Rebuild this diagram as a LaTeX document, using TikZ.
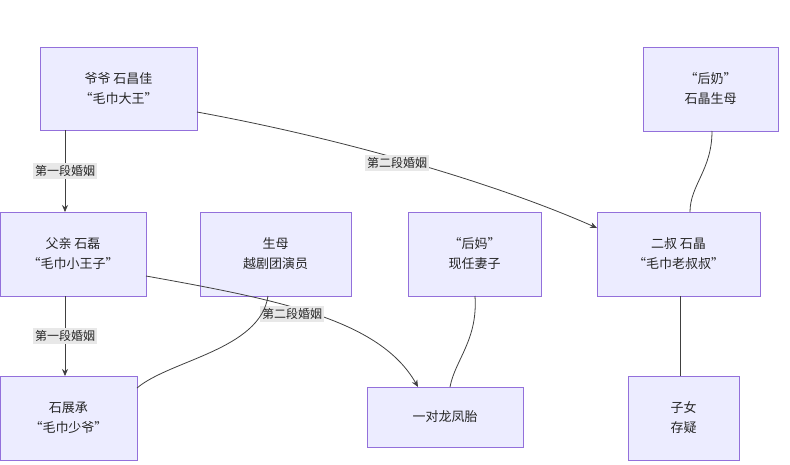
\documentclass[tikz,border=0pt]{standalone}
\usepackage{fontspec}
\setmainfont{Noto Sans CJK SC}
\usetikzlibrary{arrows.meta}
\definecolor{boxfill}{HTML}{ECECFF}
\definecolor{boxdraw}{HTML}{9370DB}
\definecolor{lbl}{HTML}{E8E8E8}
\begin{document}
\begin{tikzpicture}[x=1pt,y=-1pt,
  bx/.style={draw=boxdraw,fill=boxfill,line width=0.8pt,align=center,font=\fontsize{13}{20}\selectfont,text=black!85,inner sep=0pt},
  ln/.style={draw=black!75,line width=0.8pt},
  ar/.style={ln,-{Stealth[length=7pt,width=6pt]}},
  lb/.style={fill=lbl,font=\fontsize{12}{14}\selectfont,inner sep=2pt,text=black!85}]
\useasboundingbox (0,0) rectangle (790,464);
\fill[white] (0,0) rectangle (790,464);
\node[bx,minimum width=157pt,minimum height=83pt] (yy) at (118.5,88.5) {爷爷 石昌佳\\“毛巾大王”};
\node[bx,minimum width=135pt,minimum height=84pt] (hn) at (710.5,89) {“后奶”\\石晶生母};
\node[bx,minimum width=146pt,minimum height=84pt] (fq) at (73,254) {父亲 石磊\\“毛巾小王子”};
\node[bx,minimum width=151pt,minimum height=84pt] (sm) at (275.5,254) {生母\\越剧团演员};
\node[bx,minimum width=133pt,minimum height=84pt] (hm) at (474.5,254) {“后妈”\\现任妻子};
\node[bx,minimum width=163pt,minimum height=84pt] (es) at (678.5,254) {二叔 石晶\\“毛巾老叔叔”};
\node[bx,minimum width=137pt,minimum height=84pt] (zc) at (68.5,418) {石展承\\“毛巾少爷”};
\node[bx,minimum width=156pt,minimum height=60pt] (lf) at (445,417) {一对龙凤胎};
\node[bx,minimum width=111pt,minimum height=84pt] (zn) at (683.5,418) {子女\\存疑};
\coordinate (yyb) at (65,130);
\coordinate (fqt) at (65,212);
\draw[ar] (yyb) -- node[lb]{第一段婚姻} (fqt);
\coordinate (fqb) at (65,296);
\coordinate (zct) at (65,376);
\draw[ar] (fqb) -- node[lb]{第一段婚姻} (zct);
\coordinate (yyr) at (197,112);
\coordinate (esl) at (597,228);
\draw[ar] (yyr) .. controls (350,140) and (500,185) .. (esl);
\node[lb] at (397,163) {第二段婚姻};
\coordinate (fqr) at (146,276);
\coordinate (lft) at (418,387);
\draw[ar] (fqr) .. controls (280,300) and (380,320) .. (lft);
\node[lb] at (292,314) {第二段婚姻};
\coordinate (smb) at (268,296);
\coordinate (zcr) at (137,388);
\draw[ln] (smb) .. controls (260,350) and (170,360) .. (zcr);
\coordinate (hmb) at (475,296);
\coordinate (lft2) at (450,387);
\draw[ln] (hmb) .. controls (478,340) and (455,360) .. (lft2);
\coordinate (hnb) at (712,131);
\coordinate (est) at (690,212);
\draw[ln] (hnb) .. controls (712,170) and (690,185) .. (est);
\coordinate (esb) at (680,296);
\coordinate (znt) at (680,376);
\draw[ln] (esb) -- (znt);
\end{tikzpicture}
\end{document}
